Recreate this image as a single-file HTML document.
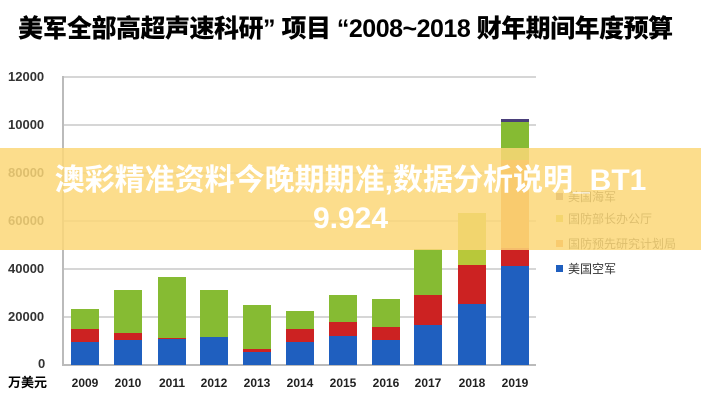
<!DOCTYPE html><html><head><meta charset="utf-8"><style>
body{margin:0;width:701px;height:400px;background:#fff;position:relative;overflow:hidden;font-family:"Liberation Sans","Noto Sans CJK SC",sans-serif}
.a{position:absolute}
.g{position:absolute;left:63px;width:473px;height:2px;background:#d6d6d6}
.yl{position:absolute;left:8px;width:44px;text-align:left;font-size:13px;font-weight:bold;color:#333}
.b{position:absolute;width:28px}
.x{position:absolute;top:376px;font-size:12px;font-weight:bold;color:#222;width:40px;text-align:center}
.lg{position:absolute;left:556px;font-size:12px;color:#333}
.lg i{display:inline-block;width:7px;height:7px;margin-right:5px;vertical-align:1px}
</style></head><body>
<div class="a" style="left:18px;top:9px;font-size:25px;font-weight:900;letter-spacing:-0.5px;transform:scaleX(1.0);transform-origin:left;white-space:nowrap">美军全部高超声速科研” 项目 “2008~2018 财年期间年度预算</div>
<div class="g" style="top:76px"></div><div class="g" style="top:124px"></div><div class="g" style="top:172px"></div><div class="g" style="top:220px"></div><div class="g" style="top:268px"></div><div class="g" style="top:316px"></div><div class="g" style="top:364px;background:#bbb"></div>
<div class="a" style="left:62px;top:76px;width:2px;height:290px;background:#bbb"></div>
<div class="yl" style="top:69px">12000</div><div class="yl" style="top:117px">10000</div><div class="yl" style="top:165px">80000</div><div class="yl" style="top:213px">60000</div><div class="yl" style="top:261px">40000</div><div class="yl" style="top:309px">20000</div><div class="yl" style="top:356px;left:38px">0</div>
<div class="a" style="left:8px;top:372px;font-size:13px;font-weight:bold">万美元</div>
<div id="bars"></div>
<script>
var d=[[85,342,329,309],[128,340,333,290],[172,339,338,277],[214,337,337,290],[257,352,349,305],[300,342,329,311],[343,336,322,295],[386,340,327,299],[428,325,295,249],[472,304,265,213]];
var h='';
d.forEach(function(r,i){h+='<div class="b" style="left:'+(r[0]-14)+'px;top:'+r[1]+'px;height:'+(365-r[1])+'px;background:#1f5fbf"></div>';
h+='<div class="b" style="left:'+(r[0]-14)+'px;top:'+r[2]+'px;height:'+(r[1]-r[2])+'px;background:#cc2222"></div>';
h+='<div class="b" style="left:'+(r[0]-14)+'px;top:'+r[3]+'px;height:'+(r[2]-r[3])+'px;background:'+(i==9?'#b8c83a':'#86bb33')+'"></div>';
h+='<div class="x" style="left:'+(r[0]-20)+'px">'+(2009+i)+'</div>';});
var c=515;
h+='<div class="b" style="left:'+(c-14)+'px;top:266px;height:99px;background:#1f5fbf"></div>';
h+='<div class="b" style="left:'+(c-14)+'px;top:248px;height:18px;background:#cc2222"></div>';
h+='<div class="b" style="left:'+(c-14)+'px;top:160px;height:88px;background:#e8873a"></div>';
h+='<div class="b" style="left:'+(c-14)+'px;top:122px;height:38px;background:#86bb33"></div>';
h+='<div class="b" style="left:'+(c-14)+'px;top:119px;height:3px;background:#4a3f7a"></div>';
h+='<div class="x" style="left:'+(c-20)+'px">2019</div>';
document.getElementById('bars').innerHTML=h;
</script>
<div class="lg" style="top:188px"><i style="background:#8a6a6a"></i>美国海军</div>
<div class="lg" style="top:210px"><i style="background:#c8c83a"></i>国防部长办公厅</div>
<div class="lg" style="top:235px"><i style="background:#e8873a"></i>国防预先研究计划局</div>
<div class="lg" style="top:260px"><i style="background:#1f5fbf"></i>美国空军</div>
<div class="a" style="left:0;top:148px;width:701px;height:102px;background:rgba(252,215,120,0.85)"></div>
<div class="a" style="left:0;top:162px;width:701px;text-align:center;color:#fff;font-size:30px;font-weight:bold;line-height:38px">澳彩精准资料今晚期期准,数据分析说明_BT1<br>9.924</div>
</body></html>
